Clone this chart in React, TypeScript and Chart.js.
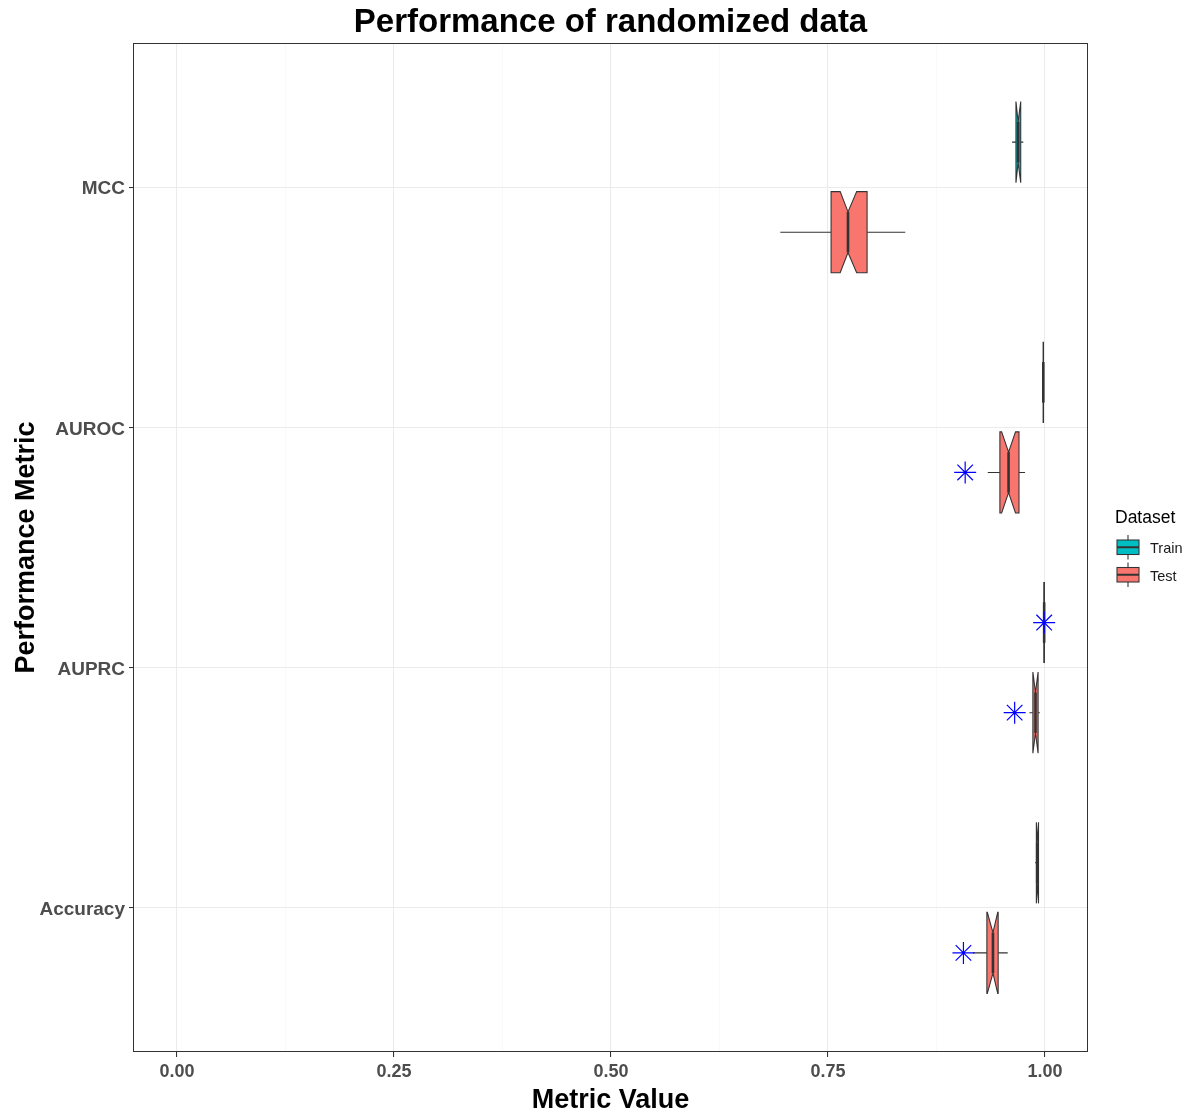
import React, { useEffect, useRef } from 'react';
import { Chart, registerables } from 'chart.js';

Chart.register(...registerables);

const FONT = "'Liberation Sans', Arial, Helvetica, sans-serif";

// Categories (bottom to top)
const categories = ['Accuracy', 'AUPRC', 'AUROC', 'MCC'];

// Series
const datasetNames = ['Train', 'Test'];
const datasetColors = ['#00BFC4', '#F8766D'];

// X axis ticks
const xMajorTicks = [0, 0.25, 0.5, 0.75, 1.0];
const xMinorTicks = [0.125, 0.375, 0.625, 0.875];

// Train box statistics (per category)
const trainWhiskerLow = [0.9885, 0.9980, 0.9975, 0.962];
const trainQ1 = [0.9900, 0.9986, 0.9978, 0.9665];
const trainMedian = [0.9910, 0.9990, 0.9980, 0.969];
const trainQ3 = [0.9925, 0.9993, 0.9982, 0.9720];
const trainWhiskerHigh = [0.9930, 0.9996, 0.9985, 0.975];
const trainNotchLow = [0.9900, 0.9986, 0.9978, 0.9665];
const trainNotchHigh = [0.9925, 0.9993, 0.9982, 0.9720];

// Test box statistics (per category)
const testWhiskerLow = [0.917, 0.982, 0.934, 0.695];
const testQ1 = [0.933, 0.986, 0.948, 0.7535];
const testMedian = [0.940, 0.989, 0.958, 0.773];
const testQ3 = [0.946, 0.992, 0.970, 0.795];
const testWhiskerHigh = [0.957, 0.994, 0.977, 0.839];
const testNotchLow = [0.9335, 0.986, 0.950, 0.764];
const testNotchHigh = [0.9455, 0.992, 0.966, 0.783];

// Highlighted points (asterisks)
const pointDataset = ['Test', 'Test', 'Train', 'Test'];
const pointCategory = ['AUROC', 'AUPRC', 'AUPRC', 'Accuracy'];
const pointValue = [0.908, 0.965, 0.999, 0.906];

const X_MIN = -0.0507;
const X_MAX = 1.0495;
const DODGE = 0.1875;
const BOX_HALF = 0.16875;

function seriesOffset(name: string) {
  return name === 'Train' ? DODGE : -DODGE;
}

const boxSeries = [
  {
    name: 'Train',
    lo: trainWhiskerLow, q1: trainQ1, med: trainMedian, q3: trainQ3, hi: trainWhiskerHigh,
    nl: trainNotchLow, nh: trainNotchHigh,
  },
  {
    name: 'Test',
    lo: testWhiskerLow, q1: testQ1, med: testMedian, q3: testQ3, hi: testWhiskerHigh,
    nl: testNotchLow, nh: testNotchHigh,
  },
];

const boxPlugin = {
  id: 'notchedBoxes',
  beforeDatasetsDraw(chart: any) {
    const { ctx } = chart;
    const xs = chart.scales.x;
    const ys = chart.scales.y;
    const halfPx = Math.abs(ys.getPixelForValue(BOX_HALF) - ys.getPixelForValue(0));
    const indent = halfPx / 2;
    ctx.save();
    boxSeries.forEach((s) => {
      const color = datasetColors[datasetNames.indexOf(s.name)];
      categories.forEach((_, i) => {
        const cy = ys.getPixelForValue(i + 1 + seriesOffset(s.name));
        const top = cy - halfPx;
        const bot = cy + halfPx;
        const pLo = xs.getPixelForValue(s.lo[i]);
        const pQ1 = xs.getPixelForValue(s.q1[i]);
        const pMed = xs.getPixelForValue(s.med[i]);
        const pQ3 = xs.getPixelForValue(s.q3[i]);
        const pHi = xs.getPixelForValue(s.hi[i]);
        const pNl = xs.getPixelForValue(s.nl[i]);
        const pNh = xs.getPixelForValue(s.nh[i]);
        // whiskers
        ctx.strokeStyle = '#333333';
        ctx.lineWidth = 1.07;
        ctx.beginPath();
        ctx.moveTo(pLo, cy);
        ctx.lineTo(pQ1, cy);
        ctx.moveTo(pQ3, cy);
        ctx.lineTo(pHi, cy);
        ctx.stroke();
        // notched box
        ctx.beginPath();
        ctx.moveTo(pQ3, top);
        ctx.lineTo(pNh, top);
        ctx.lineTo(pMed, top + indent);
        ctx.lineTo(pNl, top);
        ctx.lineTo(pQ1, top);
        ctx.lineTo(pQ1, bot);
        ctx.lineTo(pNl, bot);
        ctx.lineTo(pMed, bot - indent);
        ctx.lineTo(pNh, bot);
        ctx.lineTo(pQ3, bot);
        ctx.closePath();
        ctx.fillStyle = color;
        ctx.fill();
        ctx.lineWidth = 1.07;
        ctx.strokeStyle = '#333333';
        ctx.lineJoin = 'miter';
        ctx.stroke();
        // median
        ctx.beginPath();
        ctx.lineWidth = 2.6;
        ctx.moveTo(pMed, top + indent);
        ctx.lineTo(pMed, bot - indent);
        ctx.stroke();
      });
    });
    ctx.restore();
  },
  afterDraw(chart: any) {
    const { ctx, chartArea } = chart;
    ctx.save();
    // panel border (crisp)
    ctx.strokeStyle = '#333333';
    ctx.lineWidth = 1;
    const l = Math.round(chartArea.left) + 0.5;
    const t = Math.round(chartArea.top) + 0.5;
    const r = Math.round(chartArea.right) - 0.5;
    const b = Math.round(chartArea.bottom) - 0.5;
    ctx.strokeRect(l, t, r - l, b - t);
    // legend
    ctx.fillStyle = '#000000';
    ctx.font = `17.5px ${FONT}`;
    ctx.textAlign = 'left';
    ctx.textBaseline = 'middle';
    ctx.fillText('Dataset', 1115, 518);
    const keyTops = [540, 567.5];
    datasetNames.forEach((name, k) => {
      const kt = keyTops[k];
      const kl = 1117;
      const w = 22;
      const h = 14.5;
      const cx = kl + w / 2;
      ctx.strokeStyle = '#333333';
      ctx.lineWidth = 1.07;
      ctx.beginPath();
      ctx.moveTo(cx, kt - 5);
      ctx.lineTo(cx, kt);
      ctx.moveTo(cx, kt + h);
      ctx.lineTo(cx, kt + h + 5);
      ctx.stroke();
      ctx.fillStyle = datasetColors[k];
      ctx.fillRect(kl, kt, w, h);
      ctx.strokeRect(kl, kt, w, h);
      ctx.beginPath();
      ctx.lineWidth = 2.0;
      ctx.moveTo(kl, kt + h / 2);
      ctx.lineTo(kl + w, kt + h / 2);
      ctx.stroke();
      ctx.fillStyle = '#1A1A1A';
      ctx.font = `14.5px ${FONT}`;
      ctx.fillText(name, 1150, kt + h / 2 + 2);
    });
    ctx.restore();
  },
};

const isMajor = (v: number) => xMajorTicks.some((m) => Math.abs(m - v) < 1e-9);

export default function App() {
  const canvasRef = useRef<HTMLCanvasElement | null>(null);

  useEffect(() => {
    if (!canvasRef.current) return;
    const points = pointValue.map((v, i) => ({
      x: v,
      y: categories.indexOf(pointCategory[i]) + 1 + seriesOffset(pointDataset[i]),
    }));
    const chart = new Chart(canvasRef.current, {
      type: 'scatter',
      data: {
        datasets: [
          {
            label: 'Highlighted',
            data: points,
            pointStyle: 'star',
            pointRadius: 11,
            pointHoverRadius: 11,
            borderColor: '#0000FF',
            backgroundColor: '#0000FF',
            pointBorderWidth: 1.2,
            borderWidth: 1.2,
          },
        ],
      },
      options: {
        responsive: false,
        animation: false,
        devicePixelRatio: 1,
        layout: { padding: { left: 0, right: 104, top: 0, bottom: 0 } },
        plugins: {
          legend: { display: false },
          tooltip: { enabled: false },
          title: {
            display: true,
            fullSize: false,
            text: 'Performance of randomized data',
            color: '#000000',
            font: { family: FONT, size: 33, weight: 'bold', lineHeight: 1.2 },
            padding: { top: 3.4, bottom: 0 },
          },
        },
        scales: {
          x: {
            type: 'linear',
            min: X_MIN,
            max: X_MAX,
            afterBuildTicks: (axis: any) => {
              axis.ticks = [...xMajorTicks, ...xMinorTicks]
                .sort((a, b) => a - b)
                .map((v) => ({ value: v }));
            },
            afterFit: (scale: any) => {
              scale.height = 59;
            },
            ticks: {
              autoSkip: false,
              maxRotation: 0,
              padding: 4,
              color: '#4D4D4D',
              font: { family: FONT, size: 18, weight: 'bold' },
              callback: (v: any) => (isMajor(Number(v)) ? Number(v).toFixed(2) : ''),
            },
            grid: {
              color: (c: any) => (c.tick && isMajor(c.tick.value) ? '#EBEBEB' : '#F5F5F5'),
              lineWidth: (c: any) => (c.tick && isMajor(c.tick.value) ? 1.07 : 0.6),
              tickColor: (c: any) => (c.tick && isMajor(c.tick.value) ? '#333333' : 'rgba(0,0,0,0)'),
              tickWidth: 1.07,
              tickLength: 5,
            },
            border: { display: false },
            title: {
              display: true,
              text: 'Metric Value',
              color: '#000000',
              font: { family: FONT, size: 27, weight: 'bold', lineHeight: 0.8 },
              padding: { top: 0, bottom: 0 },
            },
          },
          y: {
            type: 'linear',
            min: 0.4,
            max: 4.6,
            afterBuildTicks: (axis: any) => {
              axis.ticks = categories.map((_, i) => ({ value: i + 1 }));
            },
            afterFit: (scale: any) => {
              scale.width = 133;
            },
            ticks: {
              autoSkip: false,
              padding: 4,
              labelOffset: 2,
              color: '#4D4D4D',
              font: { family: FONT, size: 19, weight: 'bold' },
              callback: (v: any) => categories[Math.round(Number(v)) - 1] ?? '',
            },
            grid: {
              color: '#EBEBEB',
              lineWidth: 1.07,
              tickColor: '#333333',
              tickWidth: 1.07,
              tickLength: 4,
            },
            border: { display: false },
            title: {
              display: true,
              text: 'Performance Metric',
              color: '#000000',
              font: { family: FONT, size: 27, weight: 'bold', lineHeight: 1.2 },
              padding: { top: 10, bottom: 0 },
            },
          },
        },
      },
      plugins: [boxPlugin],
    } as any);
    return () => chart.destroy();
  }, []);

  return (
    <div style={{ position: 'absolute', left: 0, top: 0, width: 1192, height: 1111, background: '#FFFFFF' }}>
      <canvas ref={canvasRef} width={1192} height={1111} style={{ display: 'block' }} />
    </div>
  );
}
